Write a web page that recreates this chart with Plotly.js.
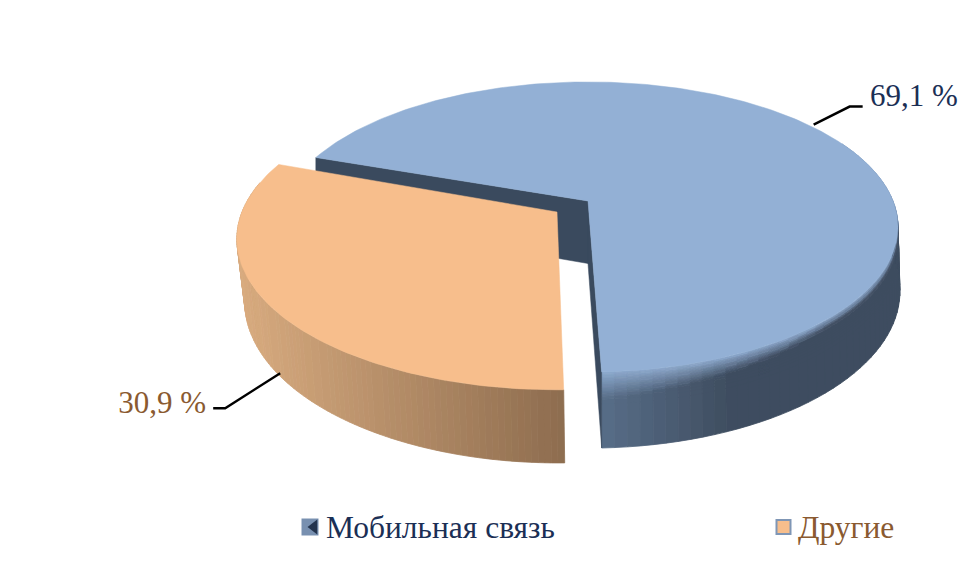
<!DOCTYPE html>
<html><head><meta charset="utf-8">
<script src="https://cdn.plot.ly/plotly-3.0.1.min.js"></script>
<style>html,body{margin:0;padding:0;background:#fff}#c{width:960px;height:561px}</style>
</head><body><div id="c"></div>
<script>
const categories = ['Мобильная связь', 'Другие'];
const shares = [69.1, 30.9];
const shareLabels = ['69,1 %', '30,9 %'];
const textColors = ['#1B2F55', '#8A5A30'];
const topColors = ['#93B0D5', '#F7BE8C'];

const FONT = 'Liberation Serif, Times New Roman, serif';
const K = 0.179;
const DEG = Math.PI / 180;
const blueDisc = {cx:588, cy:201, A:305, B:140.4, D:62.5, sl:0, sr:2, s0:0, start:-87.9, dir:1};
const orangeDisc = {cx:557, cy:212, A:315, B:146, D:60, sl:7, sr:0, s0:1, start:-89, dir:-1};

function pt(d, tDeg, s) {
  const u = Math.cos(tDeg*DEG), v = -Math.sin(tDeg*DEG), w = 1 - K*v;
  const shift = d.s0 + (u < 0 ? -d.sl*u : d.sr*u);
  return [d.cx + d.A*u/w + s*shift, d.cy + d.B*v/w + s*d.D/w];
}
function hex(c){return [1,3,5].map(i=>parseInt(c.substr(i,2),16));}
function mix(a,b,f){f=Math.max(0,Math.min(1,f));const A=hex(a),B=hex(b);
  return '#'+A.map((x,i)=>{const q=Math.round((x+(B[i]-x)*f)/2)*2;return Math.min(255,q).toString(16).padStart(2,'0');}).join('');}

const bands = new Map();
function addPoly(color, pts){
  if(!bands.has(color)) bands.set(color,{x:[],y:[]});
  const b=bands.get(color);
  pts.forEach(p=>{b.x.push(p[0]);b.y.push(p[1]);});
  b.x.push(pts[0][0],null);b.y.push(pts[0][1],null);
}
function flushBands(out){
  bands.forEach((b,c)=>out.push({type:'scatter',mode:'lines',x:b.x,y:b.y,fill:'toself',fillcolor:c,
    line:{color:c,width:0.8},hoverinfo:'skip',showlegend:false}));
  bands.clear();
}
function poly(pts,color){
  return {type:'scatter',mode:'lines',x:pts.map(p=>p[0]).concat(pts[0][0]),y:pts.map(p=>p[1]).concat(pts[0][1]),
    fill:'toself',fillcolor:color,line:{color:color,width:0.5},hoverinfo:'skip',showlegend:false};
}
function arc(d,from,to,s){const r=[];const n=Math.ceil(Math.abs(to-from)/1);for(let i=0;i<=n;i++)r.push(pt(d,from+(to-from)*i/n,s));return r;}

const traces = [];
const blueSweep = shares[0]/100*360, orangeSweep = shares[1]/100*360;
const blueEnd = blueDisc.start + blueSweep, orangeEnd = orangeDisc.start - orangeSweep;
const apexB=[blueDisc.cx,blueDisc.cy];

// blue rim
const levels=[0,.02,.04,.06,.08,.1,.13,.16,.19,.22,.25,.28,.32,.36,.42,1];
for(let t=blueDisc.start;t<25;t+=2){
  for(let j=0;j<levels.length-1;j++){
    const a=pt(blueDisc,t,levels[j]),b=pt(blueDisc,t+2,levels[j]),c=pt(blueDisc,t+2,levels[j+1]),e=pt(blueDisc,t,levels[j+1]);
    const g=(a[0]-602)/125;
    const base=mix('#566C86','#3E4C5F',g);
    const s0=0.36-0.24*Math.min(1,(a[0]-602)/220);
    const sm=(levels[j]+levels[j+1])/2;
    addPoly(mix(mix(topColors[0],base,0.1),base,sm/s0),[a,b,c,e]);
  }
}
flushBands(traces);
// blue cut walls
const wall='#3A4A5E';
traces.push(poly([apexB,pt(blueDisc,blueEnd,0),pt(blueDisc,blueEnd,1),[blueDisc.cx,blueDisc.cy+blueDisc.D]],wall));
traces.push(poly([apexB,pt(blueDisc,blueDisc.start,0),pt(blueDisc,blueDisc.start,1),[blueDisc.cx,blueDisc.cy+blueDisc.D]],wall));
// blue top
traces.push(poly([apexB].concat(arc(blueDisc,blueDisc.start,blueEnd,0)),topColors[0]));
// orange rim
for(let t=orangeDisc.start;t>-192;t-=1){
  const a=pt(orangeDisc,t,0),b=pt(orangeDisc,t-1,0),c=pt(orangeDisc,t-1,1),e=pt(orangeDisc,t,1);
  addPoly(mix('#8E6D4F','#D8AB7F',(565-e[0])/320),[a,b,c,e]);
}
flushBands(traces);
// orange top
traces.push(poly([[orangeDisc.cx,orangeDisc.cy]].concat(arc(orangeDisc,orangeDisc.start,orangeEnd,0)),topColors[1]));

// leaders, anchored at each slice's middle angle
const aB=pt(blueDisc,blueDisc.start+blueSweep/2,0), aO=pt(orangeDisc,orangeDisc.start-orangeSweep/2,1);
function leader(pts){traces.push({type:'scatter',mode:'lines',x:pts.map(p=>p[0]),y:pts.map(p=>p[1]),
  line:{color:'#000',width:2.4},hoverinfo:'skip',showlegend:false});}
leader([[aB[0]+4,aB[1]-1],[aB[0]+40,aB[1]-19],[aB[0]+53,aB[1]-19]]);
leader([[aO[0]+3,aO[1]],[aO[0]-52,aO[1]+35],[aO[0]-64,aO[1]+35]]);

// value labels
function label(x,y,txt,color,size,pos){traces.push({type:'scatter',mode:'text',x:[x],y:[y],text:[txt],textposition:pos,
  textfont:{family:FONT,size:size,color:color},hoverinfo:'skip',showlegend:false});}
label(870,98,shareLabels[0],textColors[0],31,'middle right');
label(206,405,shareLabels[1],textColors[1],31,'middle left');

// legend
function marker(x,y,sym,size,color,lc,lw){traces.push({type:'scatter',mode:'markers',x:[x],y:[y],
  marker:{symbol:sym,size:size,color:color,line:{color:lc,width:lw}},hoverinfo:'skip',showlegend:false});}
marker(310,527,'square',17,'#7890B0','#7890B0',0);
marker(314,527,'triangle-left',13,'#24344E','#24344E',0);
marker(783.5,527,'square',14,topColors[1],'#7F96B5',2);
label(326,530,categories[0],textColors[0],31.5,'middle right');
label(798,530,categories[1],textColors[1],31.5,'middle right');

Plotly.newPlot('c',traces,{
  width:960,height:561,margin:{l:0,r:0,t:0,b:0},paper_bgcolor:'#fff',plot_bgcolor:'#fff',showlegend:false,hovermode:false,
  xaxis:{range:[0,960],visible:false,fixedrange:true},
  yaxis:{range:[561,0],visible:false,fixedrange:true}
},{displayModeBar:false,staticPlot:true});
</script></body></html>
